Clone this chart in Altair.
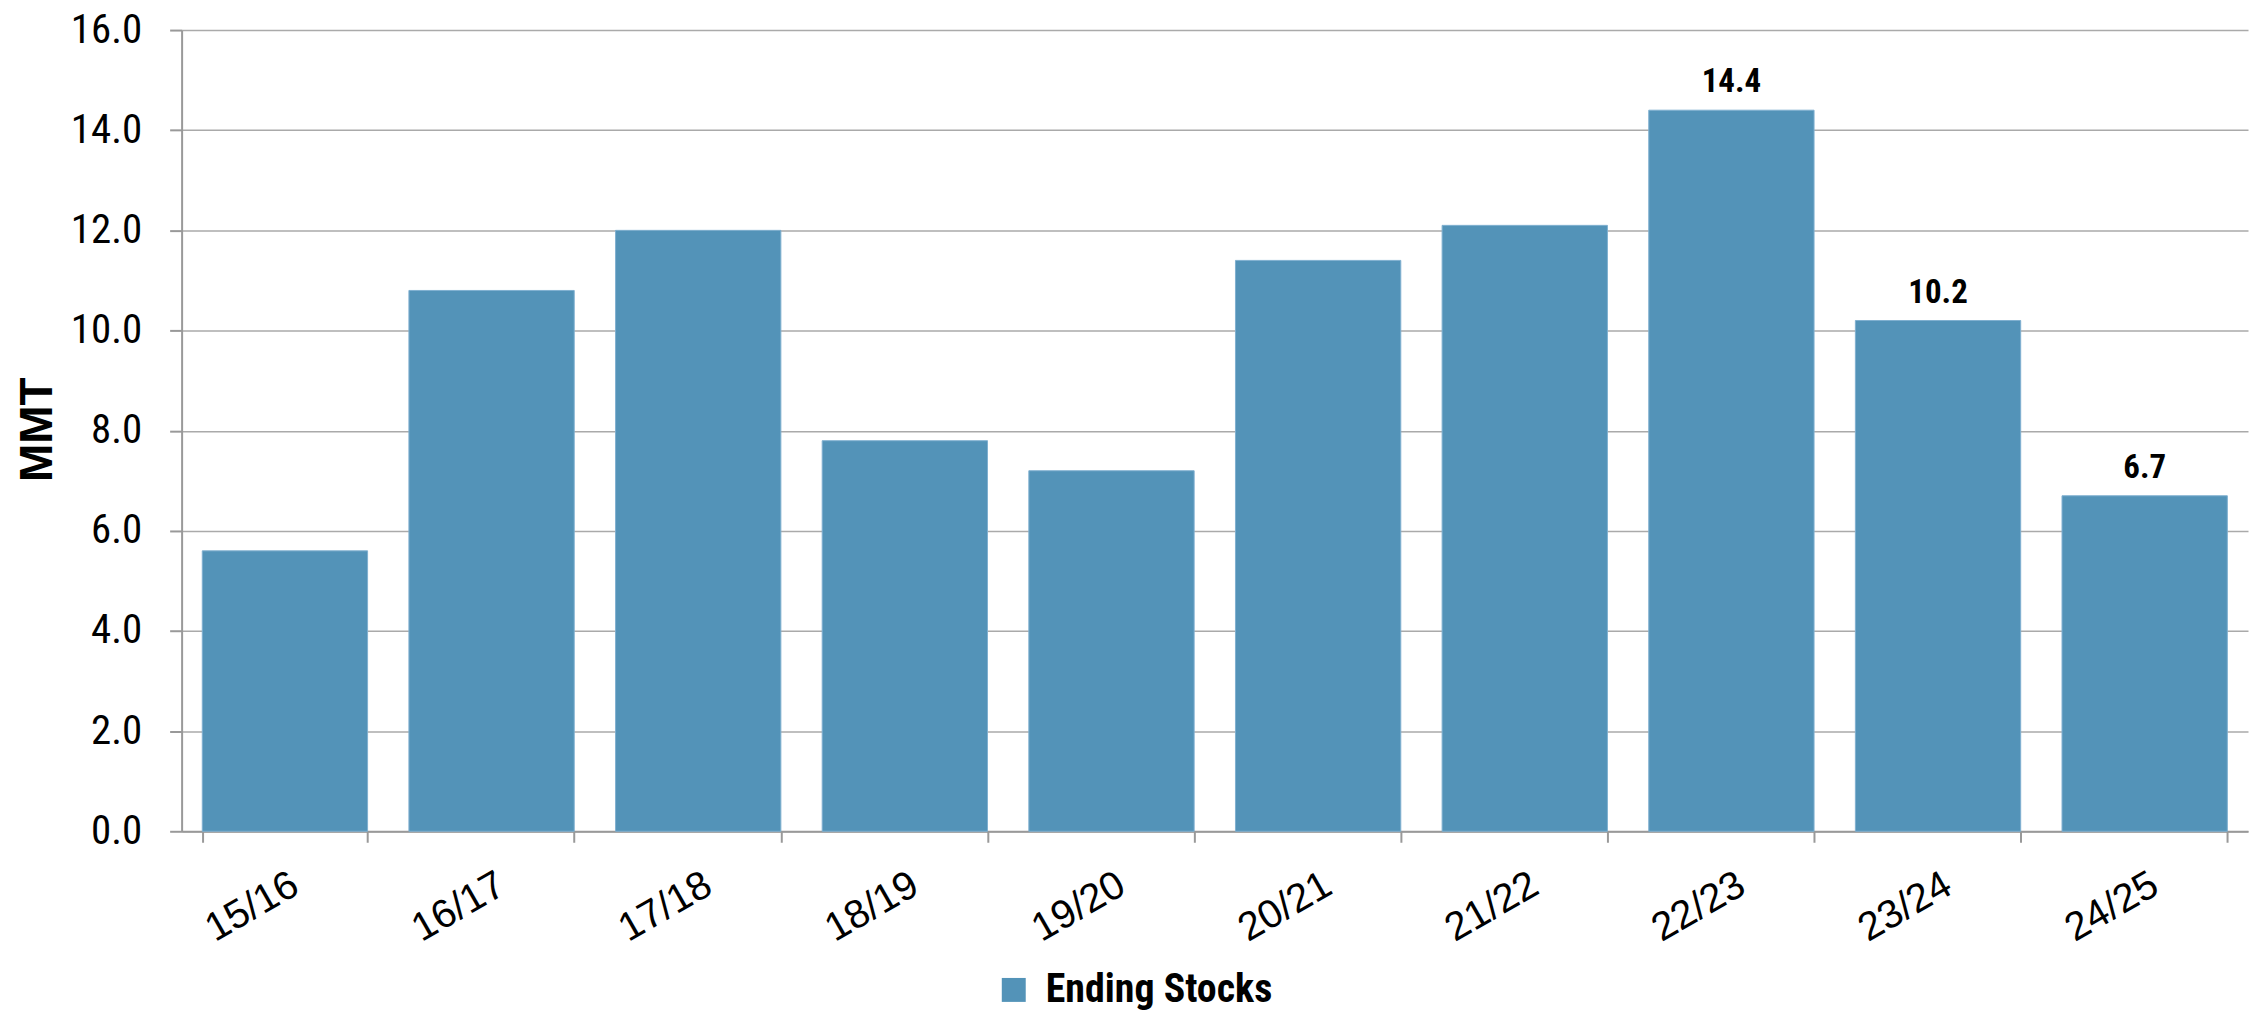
import altair as alt
import pandas as pd

# Data
years = ["15/16", "16/17", "17/18", "18/19", "19/20", "20/21", "21/22", "22/23", "23/24", "24/25"]
ending_stocks = [5.6, 10.8, 12.0, 7.8, 7.2, 11.4, 12.1, 14.4, 10.2, 6.7]
labeled_years = ["22/23", "23/24", "24/25"]
series_name = "Ending Stocks"
y_ticks = [0, 2, 4, 6, 8, 10, 12, 14, 16]

df = pd.DataFrame({
    "year": years,
    "value": ending_stocks,
    "series": [series_name] * len(years),
})

COND = "Roboto Condensed, Liberation Sans Narrow, Arial Narrow, Roboto, sans-serif"
ARIAL = "Liberation Sans, Arial, sans-serif"
BAR = "#5393B8"

base = alt.Chart(df).encode(
    x=alt.X(
        "year:N",
        sort=years,
        scale=alt.Scale(paddingInner=0.2, paddingOuter=0.1),
        axis=alt.Axis(
            title=None,
            labelAngle=-30,
            labelAlign="right",
            labelBaseline="top",
            labelFont=ARIAL,
            labelFontSize=40,
            labelColor="#000000",
            labelPadding=22,
            tickBand="extent",
            tickSize=11,
            tickColor="#999999",
            tickWidth=2,
            domainColor="#999999",
            domainWidth=2,
            grid=False,
        ),
    ),
)

bars = base.mark_bar(color=BAR, stroke="#7fb0d0", strokeWidth=1).encode(
    y=alt.Y(
        "value:Q",
        scale=alt.Scale(domain=[0, 16], nice=False),
        axis=alt.Axis(
            title="MMT",
            titleFont=ARIAL,
            titleFontSize=46,
            titleFontWeight="bold",
            titleColor="#000000",
            titleAngle=-90,
            titleBaseline="alphabetic",
            titleX=-130,
            titleY=400,
            values=y_ticks,
            format=".1f",
            labelFont=COND,
            labelFontSize=41,
            labelColor="#000000",
            labelPadding=28,
            tickSize=12,
            tickColor="#999999",
            tickWidth=2,
            domainColor="#999999",
            domainWidth=2,
            grid=True,
            gridColor="#AAAAAA",
            gridWidth=1.5,
        ),
    ),
    color=alt.Color(
        "series:N",
        scale=alt.Scale(domain=[series_name], range=[BAR]),
        legend=alt.Legend(
            title=None,
            orient="none",
            legendX=814,
            legendY=942,
            padding=0,
            symbolType="square",
            symbolSize=576,
            symbolStrokeWidth=0,
            symbolOpacity=1,
            labelFont=COND,
            labelFontSize=40,
            labelFontWeight="bold",
            labelColor="#000000",
            labelOffset=12,
            labelLimit=0,
        ),
    ),
)

labels = base.mark_text(
    font=COND,
    fontSize=33,
    fontWeight="bold",
    color="#000000",
    baseline="alphabetic",
    dy=-18,
).encode(
    y=alt.Y("value:Q"),
    text=alt.Text("value:Q", format=".1f"),
).transform_filter(
    alt.FieldOneOfPredicate(field="year", oneOf=labeled_years)
)

chart = (
    alt.layer(bars, labels)
    .properties(
        width=2071,
        height=803,
        autosize=alt.AutoSizeParams(type="none"),
        padding={"left": 174, "top": 21, "right": 2, "bottom": 178},
        background="#ffffff",
    )
    .configure_view(stroke=None)
)

chart.save("out.html", embed_options={"renderer": "svg", "actions": False})
